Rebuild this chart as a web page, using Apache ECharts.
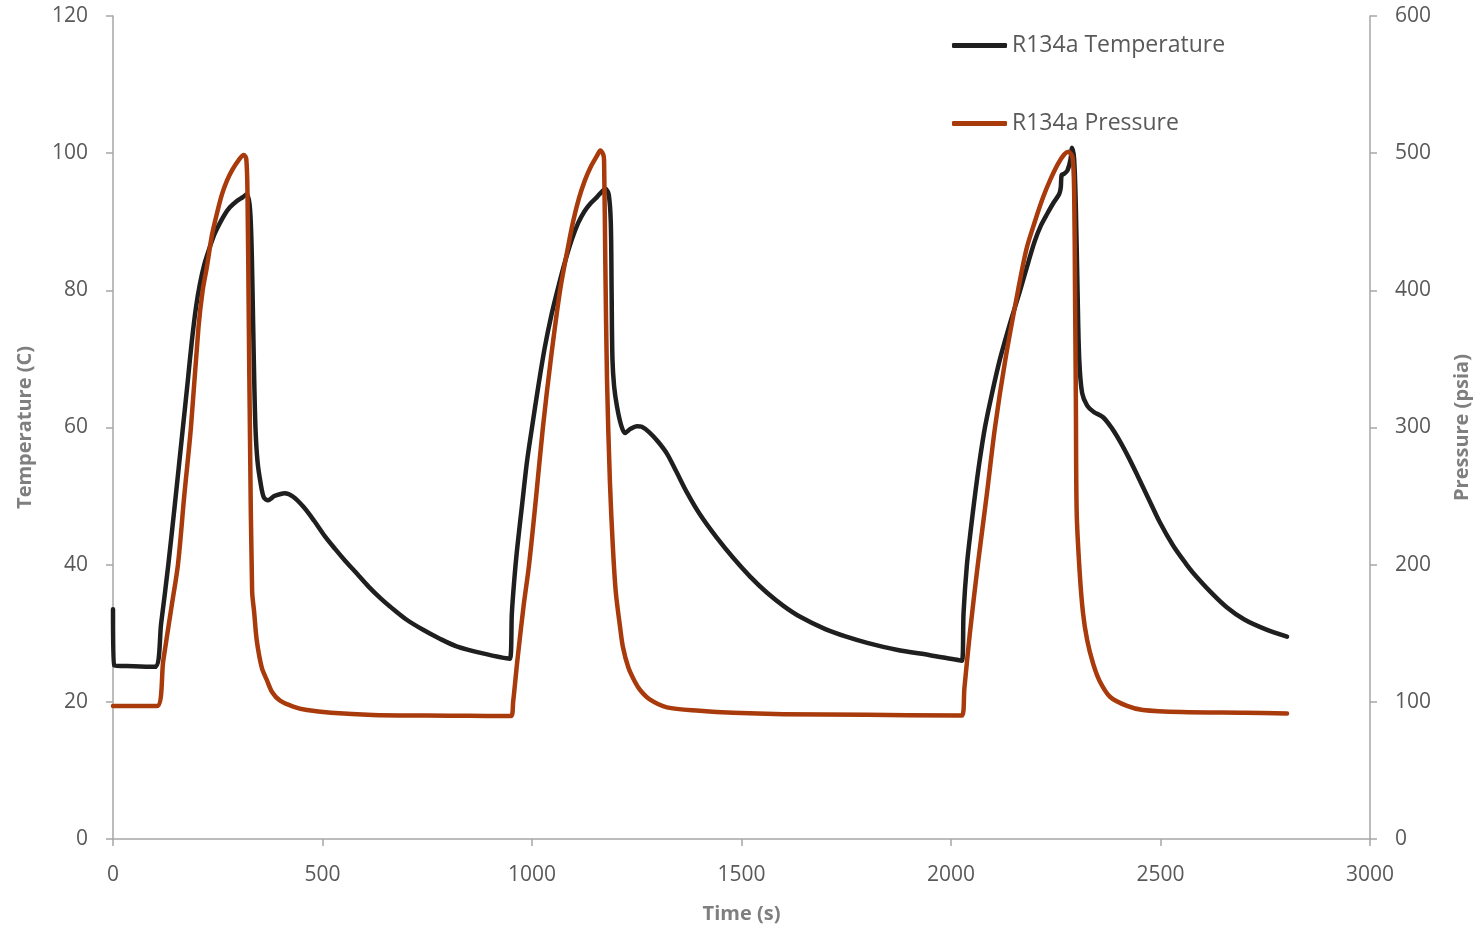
<!DOCTYPE html>
<html>
<head>
<meta charset="utf-8">
<script src="https://cdn.jsdelivr.net/npm/echarts@6/dist/echarts.min.js"></script>
<style>
  html, body { margin: 0; padding: 0; background: #fff; }
  #chart { width: 1479px; height: 927px; }
</style>
</head>
<body>
<div id="chart"></div>
<script>
// R134a temperature (C) vs time (s)
var tempTime = [0, 3, 50, 100, 115, 132, 148, 166, 178, 188, 198, 207, 218, 231, 243, 255, 267, 279, 295, 310, 319,
    326, 330, 333, 336, 340, 345, 352, 360, 370, 385, 400, 410, 430, 455, 480, 505, 530, 555, 582, 610, 640, 661,
    700, 740, 780, 820, 880, 947,
    952, 958, 964, 975, 988, 1000, 1015, 1030, 1046, 1062, 1078, 1095, 1110, 1125, 1140, 1155, 1167, 1175, 1183,
    1188, 1190, 1192, 1196, 1203, 1212, 1222, 1235, 1250, 1262, 1280, 1300, 1322, 1345, 1370, 1401, 1440, 1480, 1520,
    1561, 1600, 1640, 1700, 1750, 1800, 1870, 1950, 2026,
    2030, 2038, 2047, 2057, 2068, 2081, 2098, 2117, 2140, 2165, 2185, 2200, 2215, 2230, 2245, 2258, 2262, 2264, 2270,
    2278, 2285, 2289, 2294, 2298, 2302, 2306, 2313, 2325, 2340, 2363, 2385, 2405, 2425, 2445, 2470, 2499, 2530, 2560,
    2578, 2620, 2658, 2700, 2750, 2802];
var tempVal = [33.5, 25.3, 25.2, 25.1, 31.5, 40, 49, 59.5, 66.5, 72.5, 77.5, 80.8, 83.8, 86.3, 88.3, 89.8, 91.1, 92.1, 93, 93.6, 94,
    92.5, 88, 80, 70, 60, 55, 52, 49.8, 49.4, 50, 50.3, 50.4, 49.9, 48.4, 46.4, 44.2, 42.3, 40.5, 38.7, 36.8, 35, 33.9,
    32, 30.5, 29.2, 28.1, 27.1, 26.3,
    33, 38, 42, 48, 55, 60, 66, 71.5, 76.3, 80.3, 84, 87.4, 89.8, 91.5, 92.7, 93.6, 94.4, 94.8, 94,
    90, 80, 70, 66, 63, 60.5, 59.2, 59.8, 60.2, 60.1, 59.3, 58, 56.2, 53.5, 50.5, 47.3, 44, 41, 38.3,
    35.9, 34, 32.4, 30.6, 29.5, 28.6, 27.6, 26.8, 26,
    33, 40, 45, 50, 55, 60, 65, 70, 75, 80, 84.2, 87.2, 89.5, 91.2, 92.8, 94, 95, 96.8, 97,
    97.5, 99, 100.8, 99, 92, 80, 70, 65, 63.2, 62.3, 61.5, 59.8, 57.8, 55.5, 53, 49.8, 46.1, 42.8, 40.2,
    38.8, 36, 33.8, 32, 30.6, 29.5];

// R134a pressure (psia) vs time (s)
var presTime = [0, 50, 105, 120, 140, 155, 170, 186, 204, 214, 224, 236, 248, 260, 272, 285, 300, 312, 318,
    321, 324, 327, 332, 337, 343, 355, 367, 380, 398, 430, 463, 520, 620, 750, 850, 950,
    955, 965, 980, 993, 1010, 1026, 1045, 1067, 1085, 1098, 1112, 1126, 1140, 1155, 1163, 1170,
    1172, 1175, 1179, 1186, 1193, 1200, 1210, 1217, 1230, 1245, 1258, 1280, 1322, 1400, 1480, 1600, 1800, 2026,
    2032, 2045, 2064, 2085, 2105, 2130, 2160, 2180, 2200, 2220, 2236, 2255, 2270, 2280, 2290,
    2294, 2296, 2298, 2300, 2307, 2315, 2325, 2339, 2355, 2380, 2420, 2458, 2550, 2700, 2802];
var presVal = [97, 97, 97, 130, 170, 200, 250, 300, 373, 400, 417, 440, 456, 470, 480, 488, 495, 498.6, 496,
    470, 380, 291, 181, 165, 145, 125, 116, 107, 101, 96.5, 94, 92, 90.4, 90, 89.8, 89.7,
    100, 130, 170, 200, 250, 300, 350, 400, 430, 450, 467, 480, 490, 498, 502, 499,
    495, 420, 335, 260, 213, 180, 155, 140, 125, 115, 108.6, 102, 96, 93.5, 92, 91, 90.5, 90,
    110, 150, 200, 250, 300, 350, 400, 430, 450, 468, 480, 492, 499, 501, 497,
    470, 400, 320, 238, 195, 165, 145, 128, 115, 103.5, 97, 94, 92.5, 92, 91.5];

var xTicks = [0, 500, 1000, 1500, 2000, 2500, 3000];

function pairs(xs, ys) {
    var out = [];
    for (var i = 0; i < xs.length; i++) {
        out.push([xs[i], ys[i]]);
    }
    return out;
}

var FONT = "Open Sans";
var AXIS_COLOR = "#a6a6a6";
var LABEL_COLOR = "#595959";
var TITLE_COLOR = "#7f7f7f";

var chart = echarts.init(document.getElementById("chart"));

var option = {
    animation: false,
    textStyle: {fontFamily: FONT},
    grid: {
        left: 113,
        right: 109,
        top: 16,
        bottom: 88,
        outerBoundsMode: "none"
    },
    legend: {
        orient: "vertical",
        left: 947,
        top: 29,
        itemWidth: 55,
        itemHeight: 5,
        itemGap: 55,
        icon: "roundRect",
        textStyle: {fontFamily: FONT, fontSize: 23, color: LABEL_COLOR},
        data: ["R134a Temperature", "R134a Pressure"]
    },
    xAxis: {
        type: "value",
        min: xTicks[0],
        max: xTicks[xTicks.length - 1],
        interval: 500,
        name: "Time (s)",
        nameLocation: "middle",
        nameGap: 65,
        nameTextStyle: {fontFamily: FONT, fontSize: 20, fontWeight: "bold", color: TITLE_COLOR},
        axisLine: {show: true, lineStyle: {color: AXIS_COLOR, width: 1.5}},
        axisTick: {show: true, length: 7, lineStyle: {color: AXIS_COLOR, width: 1.5}},
        axisLabel: {
            fontFamily: FONT, fontSize: 21, color: LABEL_COLOR, margin: 26,
            formatter: function (value) { return String(value); }
        },
        splitLine: {show: false}
    },
    yAxis: [
        {
            type: "value",
            min: 0,
            max: 120,
            interval: 20,
            position: "left",
            name: "Temperature (C)",
            nameLocation: "middle",
            nameGap: 78,
            nameTextStyle: {fontFamily: FONT, fontSize: 20, fontWeight: "bold", color: TITLE_COLOR},
            axisLine: {show: true, lineStyle: {color: AXIS_COLOR, width: 1.5}},
            axisTick: {show: true, length: 7, lineStyle: {color: AXIS_COLOR, width: 1.5}},
            axisLabel: {fontFamily: FONT, fontSize: 21, color: LABEL_COLOR, margin: 25},
            splitLine: {show: false}
        },
        {
            type: "value",
            min: 0,
            max: 600,
            interval: 100,
            position: "right",
            name: "Pressure (psia)",
            nameLocation: "middle",
            nameGap: 82,
            nameTextStyle: {fontFamily: FONT, fontSize: 20, fontWeight: "bold", color: TITLE_COLOR},
            axisLine: {show: true, lineStyle: {color: AXIS_COLOR, width: 1.5}},
            axisTick: {show: true, length: 7, lineStyle: {color: AXIS_COLOR, width: 1.5}},
            axisLabel: {fontFamily: FONT, fontSize: 21, color: LABEL_COLOR, margin: 25},
            splitLine: {show: false}
        }
    ],
    series: [
        {
            name: "R134a Temperature",
            type: "line",
            yAxisIndex: 0,
            showSymbol: false,
            symbol: "none",
            smooth: 0.3,
            color: "#1f1f1f",
            lineStyle: {color: "#1f1f1f", width: 4.5, cap: "round", join: "round"},
            data: pairs(tempTime, tempVal)
        },
        {
            name: "R134a Pressure",
            type: "line",
            yAxisIndex: 1,
            showSymbol: false,
            symbol: "none",
            smooth: 0.3,
            color: "#a83a0c",
            lineStyle: {color: "#a83a0c", width: 4.5, cap: "round", join: "round"},
            data: pairs(presTime, presVal)
        }
    ]
};

chart.setOption(option);
</script>
</body>
</html>
